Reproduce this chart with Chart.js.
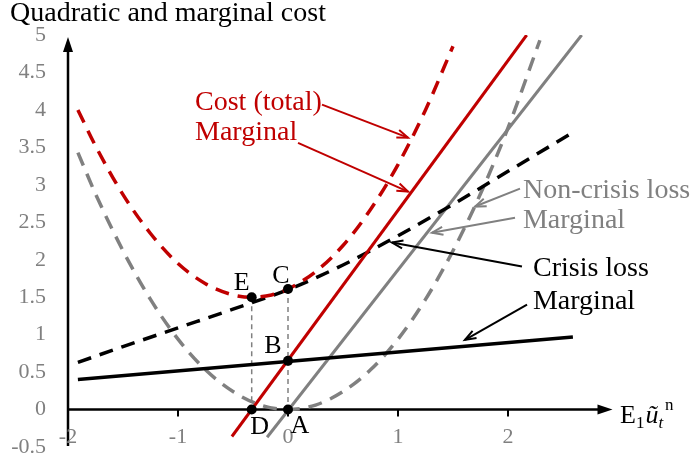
<!DOCTYPE html>
<html>
<head>
<meta charset="utf-8">
<script src="https://cdn.jsdelivr.net/npm/chart.js@4.4.1/dist/chart.umd.min.js"></script>
<style>
  html, body { margin: 0; padding: 0; background: #fff; }
  canvas { display: block; }
</style>
</head>
<body>
<canvas id="chart" width="692" height="461"></canvas>
<script>
// ── Data ───────────────────────────────────────────────────────────────
const xTicks = [-2, -1, 0, 1, 2];
const yTicks = [-0.5, 0, 0.5, 1, 1.5, 2, 2.5, 3, 3.5, 4, 4.5, 5];

// total cost (red dashed)
const costX = [-1.91, -1.75, -1.5, -1.25, -1.0, -0.75, -0.5, -0.33, -0.15, 0, 0.25, 0.5, 0.75, 1.0, 1.25, 1.5];
const costY = [4.00, 3.52, 2.87, 2.35, 1.95, 1.68, 1.53, 1.50, 1.53, 1.61, 1.84, 2.19, 2.67, 3.27, 4.00, 4.85];

// non-crisis loss (gray dashed)
const nonCrisisX = [-1.91, -1.75, -1.5, -1.25, -1.0, -0.75, -0.5, -0.25, 0, 0.25, 0.5, 0.75, 1.0, 1.25, 1.5, 1.75, 2.0, 2.29];
const nonCrisisY = [3.43, 2.88, 2.12, 1.47, 0.94, 0.53, 0.24, 0.06, 0, 0.06, 0.24, 0.53, 0.94, 1.47, 2.12, 2.88, 3.76, 4.93];

// crisis loss (black dashed)
const crisisX = [-1.91, -1.5, -1.0, -0.5, 0, 0.5, 1.0, 1.5, 2.0, 2.58];
const crisisY = [0.63, 0.84, 1.09, 1.34, 1.60, 1.93, 2.32, 2.74, 3.18, 3.69];

// marginals (straight lines)
const margCostX = [-0.51, 2.17];
const margCostY = [-0.36, 5.0];
const margNonCrisisX = [-0.19, 2.67];
const margNonCrisisY = [-0.37, 5.0];
const margCrisisX = [-1.91, 2.59];
const margCrisisY = [0.40, 0.97];

// labelled points
const pointNames = ['E', 'C', 'B', 'D', 'A'];
const pointX = [-0.33, 0, 0, -0.33, 0];
const pointY = [1.50, 1.61, 0.65, 0, 0];

// ── Styles ─────────────────────────────────────────────────────────────
const RED = '#c00000', GRAY = '#808080', BLACK = '#000000';
const SERIF = '"Liberation Serif", "Times New Roman", serif';
const DASH = [14, 9];

// label offsets for points (px): [dx, dy] of text centre / baseline
const pointLabelOffset = { E: [-10, -7], C: [-7, -6], B: [-15, -8], D: [8, 24], A: [12, 23] };

// annotations in data coords
const notes = [
  { text: 'Cost (total)',    color: RED,   x: -0.845, y: 4.00 },
  { text: 'Marginal',        color: RED,   x: -0.845, y: 3.60 },
  { text: 'Non-crisis loss', color: GRAY,  x: 2.136,  y: 2.83 },
  { text: 'Marginal',        color: GRAY,  x: 2.136,  y: 2.42 },
  { text: 'Crisis loss',     color: BLACK, x: 2.227,  y: 1.78 },
  { text: 'Marginal',        color: BLACK, x: 2.227,  y: 1.34 }
];
const arrows = [
  { color: RED,   from: [0.309, 4.07], to: [1.091, 3.63] },
  { color: RED,   from: [0.091, 3.56], to: [1.091, 2.91] },
  { color: GRAY,  from: [2.109, 2.95], to: [1.700, 2.71] },
  { color: GRAY,  from: [2.064, 2.56], to: [1.309, 2.36] },
  { color: BLACK, from: [2.127, 1.91], to: [0.945, 2.23] },
  { color: BLACK, from: [2.173, 1.40], to: [1.609, 0.93] }
];

function pts(xs, ys) { return xs.map((x, i) => ({ x, y: ys[i] })); }

function line(data, color, width, dash, smooth) {
  return {
    data, borderColor: color, borderWidth: width, borderDash: dash || [],
    showLine: true, pointRadius: 0, fill: false,
    cubicInterpolationMode: smooth ? 'monotone' : 'default', tension: 0
  };
}

function arrowHead(ctx, x1, y1, x2, y2, len, half, filled) {
  const a = Math.atan2(y2 - y1, x2 - x1);
  ctx.beginPath();
  ctx.moveTo(x2 - len * Math.cos(a) + half * Math.sin(a), y2 - len * Math.sin(a) - half * Math.cos(a));
  ctx.lineTo(x2, y2);
  ctx.lineTo(x2 - len * Math.cos(a) - half * Math.sin(a), y2 - len * Math.sin(a) + half * Math.cos(a));
  if (filled) { ctx.closePath(); ctx.fill(); } else { ctx.stroke(); }
}

// ── Overlay: axes, ticks, texts, arrows ────────────────────────────────
const overlay = {
  id: 'overlay',
  beforeDatasetsDraw(chart) {
    const { ctx, scales: { x, y } } = chart;
    const x0 = x.getPixelForValue(-2), yZero = y.getPixelForValue(0);
    ctx.save();
    ctx.strokeStyle = BLACK; ctx.fillStyle = BLACK; ctx.lineWidth = 2.5;
    // vertical axis
    const yTop = y.getPixelForValue(5) + 2, yBot = y.getPixelForValue(-0.5) - 1;
    ctx.beginPath(); ctx.moveTo(x0, yBot); ctx.lineTo(x0, yTop + 10); ctx.stroke();
    arrowHead(ctx, x0, yBot, x0, yTop, 15, 5, true);
    // horizontal axis
    const xTip = x.getPixelForValue(2.95);
    ctx.beginPath(); ctx.moveTo(x0, yZero); ctx.lineTo(xTip - 10, yZero); ctx.stroke();
    arrowHead(ctx, x0, yZero, xTip, yZero, 15, 5, true);
    // x tick marks
    ctx.lineWidth = 2;
    xTicks.forEach(v => {
      const px = x.getPixelForValue(v);
      if (v !== -2) {
        ctx.beginPath(); ctx.moveTo(px, yZero); ctx.lineTo(px, yZero + 7); ctx.stroke();
      }
    });
    // tick labels
    ctx.fillStyle = GRAY;
    ctx.font = '22px ' + SERIF;
    ctx.textBaseline = 'middle';
    ctx.textAlign = 'center';
    xTicks.forEach(v => ctx.fillText(String(v), x.getPixelForValue(v), yZero + 28));
    ctx.textAlign = 'right';
    yTicks.forEach(v => ctx.fillText(String(v), x0 - 22, y.getPixelForValue(v)));
    ctx.restore();
  },
  afterDatasetsDraw(chart) {
    const { ctx, scales: { x, y } } = chart;
    ctx.save();
    // title
    ctx.fillStyle = BLACK;
    ctx.font = '28px ' + SERIF;
    ctx.textAlign = 'left'; ctx.textBaseline = 'alphabetic';
    ctx.fillText('Quadratic and marginal cost', 10, 21);

    // annotations
    notes.forEach(n => {
      ctx.fillStyle = n.color;
      ctx.fillText(n.text, x.getPixelForValue(n.x), y.getPixelForValue(n.y));
    });
    arrows.forEach(a => {
      const x1 = x.getPixelForValue(a.from[0]), y1 = y.getPixelForValue(a.from[1]);
      const x2 = x.getPixelForValue(a.to[0]),   y2 = y.getPixelForValue(a.to[1]);
      ctx.strokeStyle = a.color; ctx.lineWidth = 2;
      ctx.beginPath(); ctx.moveTo(x1, y1); ctx.lineTo(x2, y2); ctx.stroke();
      arrowHead(ctx, x1, y1, x2, y2, 11, 4, false);
    });

    // point labels
    ctx.fillStyle = BLACK;
    ctx.font = '26px ' + SERIF;
    ctx.textAlign = 'center';
    pointNames.forEach((name, i) => {
      const off = pointLabelOffset[name];
      ctx.fillText(name, x.getPixelForValue(pointX[i]) + off[0], y.getPixelForValue(pointY[i]) + off[1]);
    });

    // x axis title: E1 u~ t n
    let cx = 620;
    const base = y.getPixelForValue(0) + 13;
    ctx.textAlign = 'left';
    ctx.font = '26px ' + SERIF;
    ctx.fillText('E', cx, base); cx += ctx.measureText('E').width;
    ctx.font = '17px ' + SERIF;
    ctx.fillText('1', cx, base + 5); cx += ctx.measureText('1').width + 1;
    ctx.font = 'italic 26px ' + SERIF;
    ctx.fillText('\u0169', cx, base); cx += ctx.measureText('\u0169').width;
    ctx.font = 'italic 17px ' + SERIF;
    ctx.fillText('t', cx, base + 5); cx += ctx.measureText('t').width + 2;
    ctx.font = '17px ' + SERIF;
    ctx.fillText('n', cx, base - 13);
    ctx.restore();
  }
};

// ── Chart ──────────────────────────────────────────────────────────────
const guides = [
  line(pts([pointX[0], pointX[3]], [pointY[0], pointY[3]]), GRAY, 1.5, [5, 4]),
  line(pts([pointX[1], pointX[4]], [pointY[1], pointY[4]]), GRAY, 1.5, [5, 4])
];

new Chart(document.getElementById('chart'), {
  type: 'scatter',
  data: {
    datasets: [
      { data: pts(pointX, pointY), pointRadius: 5, pointBackgroundColor: BLACK, pointBorderWidth: 0, showLine: false },
      line(pts(margCostX, margCostY), RED, 3),
      line(pts(costX, costY), RED, 3.5, DASH, true),
      line(pts(margCrisisX, margCrisisY), BLACK, 3.5),
      line(pts(crisisX, crisisY), BLACK, 3.5, DASH, true),
      line(pts(margNonCrisisX, margNonCrisisY), GRAY, 3),
      line(pts(nonCrisisX, nonCrisisY), GRAY, 3.5, DASH, true),
      ...guides
    ]
  },
  options: {
    responsive: false,
    animation: false,
    layout: { padding: { left: 68, top: 35, right: 74, bottom: 14 } },
    plugins: { legend: { display: false }, tooltip: { enabled: false } },
    scales: {
      x: { type: 'linear', min: -2, max: 3, display: false },
      y: { type: 'linear', min: -0.5, max: 5, display: false }
    }
  },
  plugins: [overlay]
});
</script>
</body>
</html>
